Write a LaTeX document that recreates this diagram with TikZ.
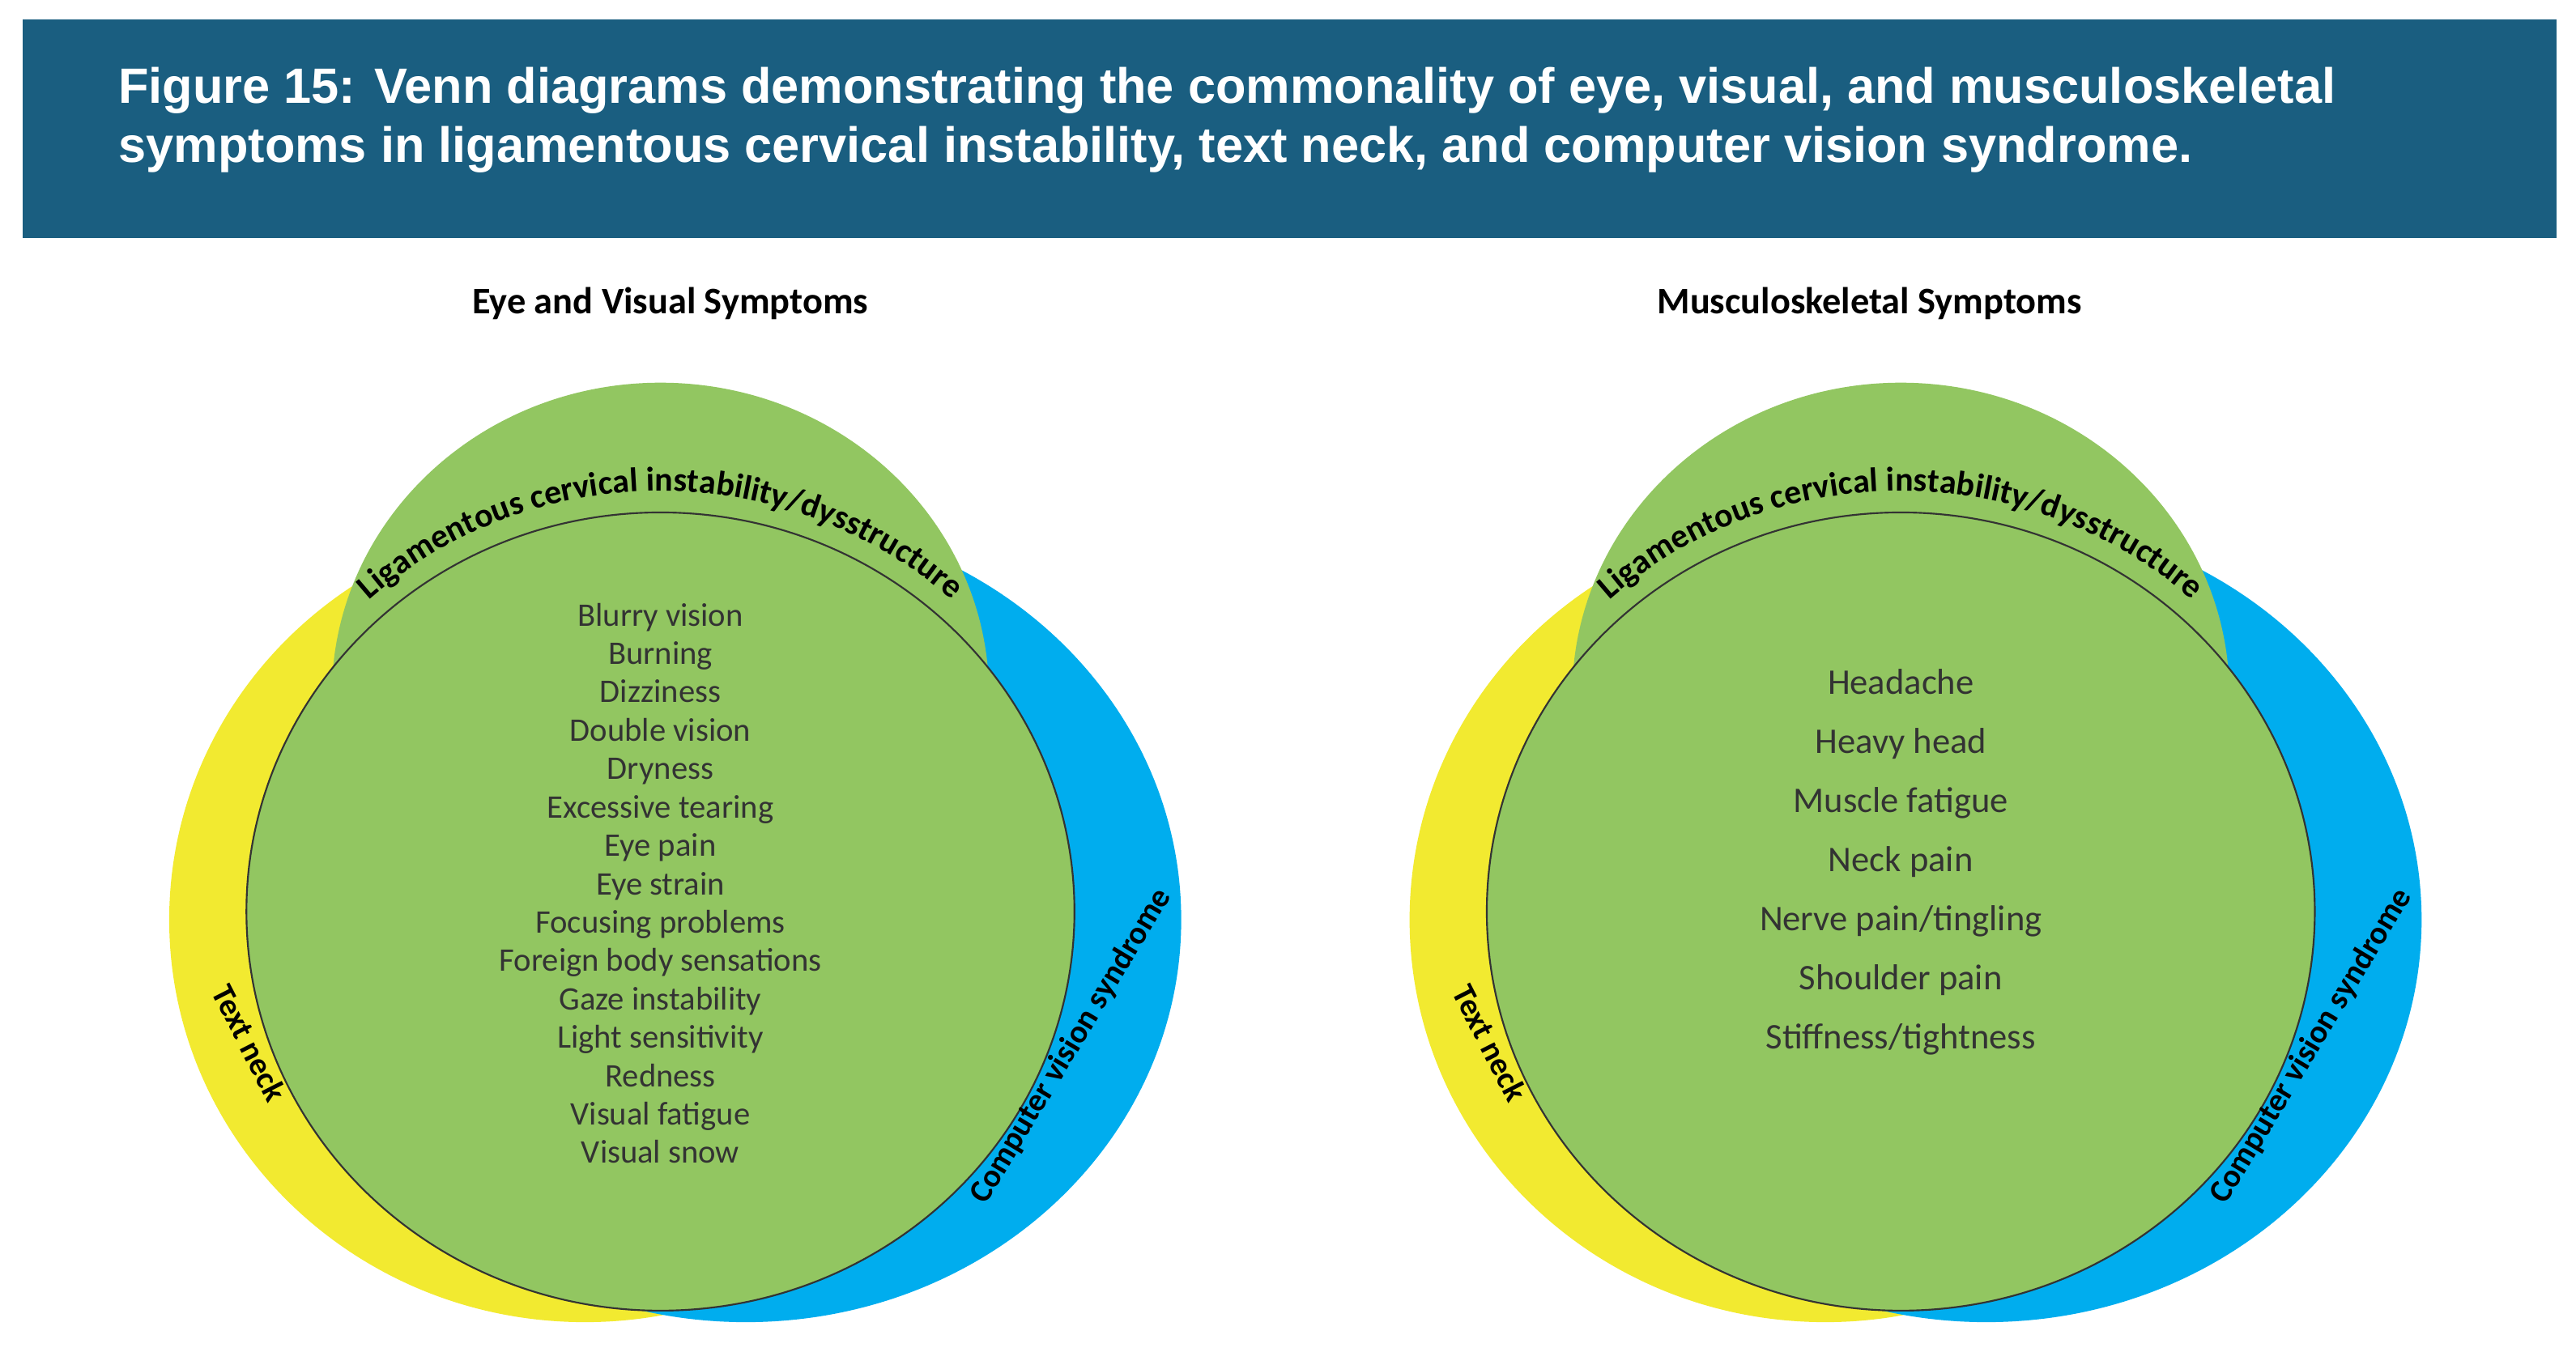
\documentclass[tikz,border=0pt]{standalone}
\usepackage{fontspec}
\setmainfont{Carlito}
\newfontfamily\hdr{Liberation Sans}
\usetikzlibrary{decorations.text}
\definecolor{hd}{HTML}{1A5E80}
\definecolor{vg}{HTML}{92C661}
\definecolor{vy}{HTML}{F2EA30}
\definecolor{vb}{HTML}{00ADEE}
\definecolor{tx}{HTML}{333333}
\tikzset{
 lst/.style={align=center,text=tx,font=\fontsize{11.4}{13.3}\selectfont},
 lst2/.style={align=center,text=tx,font=\fontsize{12.5}{20.5}\selectfont},
 lab/.style={font=\fontsize{11.2}{13}\selectfont\bfseries},
 ttl/.style={font=\fontsize{13}{15}\selectfont\bfseries}
}
\begin{document}
\begin{tikzpicture}[x=0.02cm,y=0.02cm]
\useasboundingbox (0,0) rectangle (1568,823);
\fill[hd] (14,678) rectangle (1556,811);
\node[anchor=west,text=white,align=left,font=\hdr\fontsize{17.2}{20.5}\selectfont\bfseries] (head) at (66,750)
 {Figure 15: Venn diagrams demonstrating the commonality of eye, visual, and musculoskeletal\\symptoms in ligamentous cervical instability, text neck, and computer vision syndrome.};
\foreach \dx/\nm in {0/A,755/B}{
 \begin{scope}[xshift=\dx*0.02cm]
 \fill[vy] (356,263) ellipse [x radius=253,y radius=245];
 \fill[vb] (454,263) ellipse [x radius=265,y radius=245];
 \fill[vg] (402,400) ellipse [x radius=200,y radius=190];
 \filldraw[fill=vg,draw=black!80,line width=0.6pt] (402,268) ellipse [x radius=252,y radius=243];
 \path[decorate,decoration={text along path,text align=center,
   text={|\fontsize{11.8}{13}\selectfont\bfseries|Ligamentous cervical instability/dysstructure}}]
   (402,268) ++(136:264 and 256) arc[start angle=136,end angle=44,x radius=264,y radius=256];
 \node[lab,rotate=-63] (tn\nm) at (152,188) {Text neck};
 \node[lab,rotate=59] (cv\nm) at (652,186) {Computer vision syndrome};
 \end{scope}}
\node[ttl] (t1) at (408,638) {Eye and Visual Symptoms};
\node[ttl] (t2) at (1138,638) {Musculoskeletal Symptoms};
\node[lst,anchor=north] (l1) at (402,462) {Blurry vision\\Burning\\Dizziness\\Double vision\\Dryness\\Excessive tearing\\Eye pain\\Eye strain\\Focusing problems\\Foreign body sensations\\Gaze instability\\Light sensitivity\\Redness\\Visual fatigue\\Visual snow};
\node[lst2,anchor=north] (l2) at (1157,422) {Headache\\Heavy head\\Muscle fatigue\\Neck pain\\Nerve pain/tingling\\Shoulder pain\\Stiffness/tightness};
\end{tikzpicture}
\end{document}
